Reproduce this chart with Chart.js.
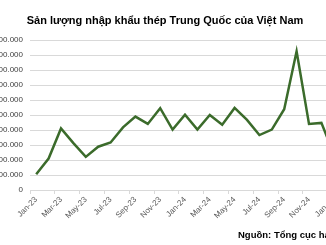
<!DOCTYPE html>
<html>
<head>
<meta charset="utf-8">
<script src="https://cdn.jsdelivr.net/npm/chart.js@4"></script>
<style>
html,body{margin:0;padding:0;background:#fff;overflow:hidden;width:326px;height:245px;}
#wrap{position:absolute;left:-20px;top:0;width:370px;height:245px;}
#src{position:absolute;left:238px;top:229px;font:bold 9.5px "Liberation Sans",Arial,sans-serif;color:#000;white-space:nowrap;}
</style>
</head>
<body>
<div id="wrap"><canvas id="c"></canvas></div>
<div id="src">Nguồn: Tổng cục hải quan</div>
<script>
const months = ["Jan-23","Feb-23","Mar-23","Apr-23","May-23","Jun-23","Jul-23","Aug-23","Sep-23","Oct-23","Nov-23","Dec-23",
  "Jan-24","Feb-24","Mar-24","Apr-24","May-24","Jun-24","Jul-24","Aug-24","Sep-24","Oct-24","Nov-24","Dec-24","Jan-25"];
const importVolume = [210000,420000,822000,626000,442000,578000,634000,836000,980000,882000,1092000,806000,
  1006000,806000,1002000,872000,1096000,936000,734000,806000,1078000,1852000,882000,896000,480000];
const titleText = "Sản lượng nhập khẩu thép Trung Quốc của Việt Nam";
const yMax = 2000000, yStep = 200000;

function fmt(v){ return v.toString().replace(/\B(?=(\d{3})+(?!\d))/g, "."); }

new Chart(document.getElementById('c'), {
  type: 'line',
  data: { labels: months, datasets: [{ data: importVolume, borderColor: '#3b6b2b', borderWidth: 2.5,
    pointRadius: 0, tension: 0, fill: false }] },
  options: {
    responsive: true, maintainAspectRatio: false, animation: false,
    layout: { padding: { left: 10, right: 10, top: 0, bottom: 23 } },
    plugins: {
      legend: { display: false }, tooltip: { enabled: false },
      title: { display: true, text: titleText, color: '#000',
        font: { family: '"Liberation Sans", Arial, sans-serif', size: 11, weight: 'bold' },
        padding: { top: 14, bottom: 13 } }
    },
    scales: {
      x: {
        offset: true,
        grid: { offset: true, drawOnChartArea: false, drawTicks: true, tickLength: 4,
          tickColor: (ctx) => (ctx.index % 2 === 0 ? '#d9d9d9' : 'rgba(0,0,0,0)') },
        border: { color: '#d9d9d9', width: 1 },
        ticks: { autoSkip: false, maxRotation: 45, minRotation: 45, padding: 1, color: '#595959',
          font: { family: '"Liberation Sans", Arial, sans-serif', size: 8 },
          callback: function(v, i){ return i % 2 === 0 ? this.getLabelForValue(v) : ''; } },
        afterFit: (s) => { s.height = 32; }
      },
      y: {
        min: 0, max: yMax,
        grid: { color: '#d9d9d9', drawTicks: false },
        border: { display: false },
        ticks: { stepSize: yStep, padding: 7, color: '#404040',
          font: { family: '"Liberation Sans", Arial, sans-serif', size: 8 },
          callback: (v) => fmt(v) },
        afterFit: (s) => { s.width = 40; }
      }
    }
  }
});
</script>
</body>
</html>
